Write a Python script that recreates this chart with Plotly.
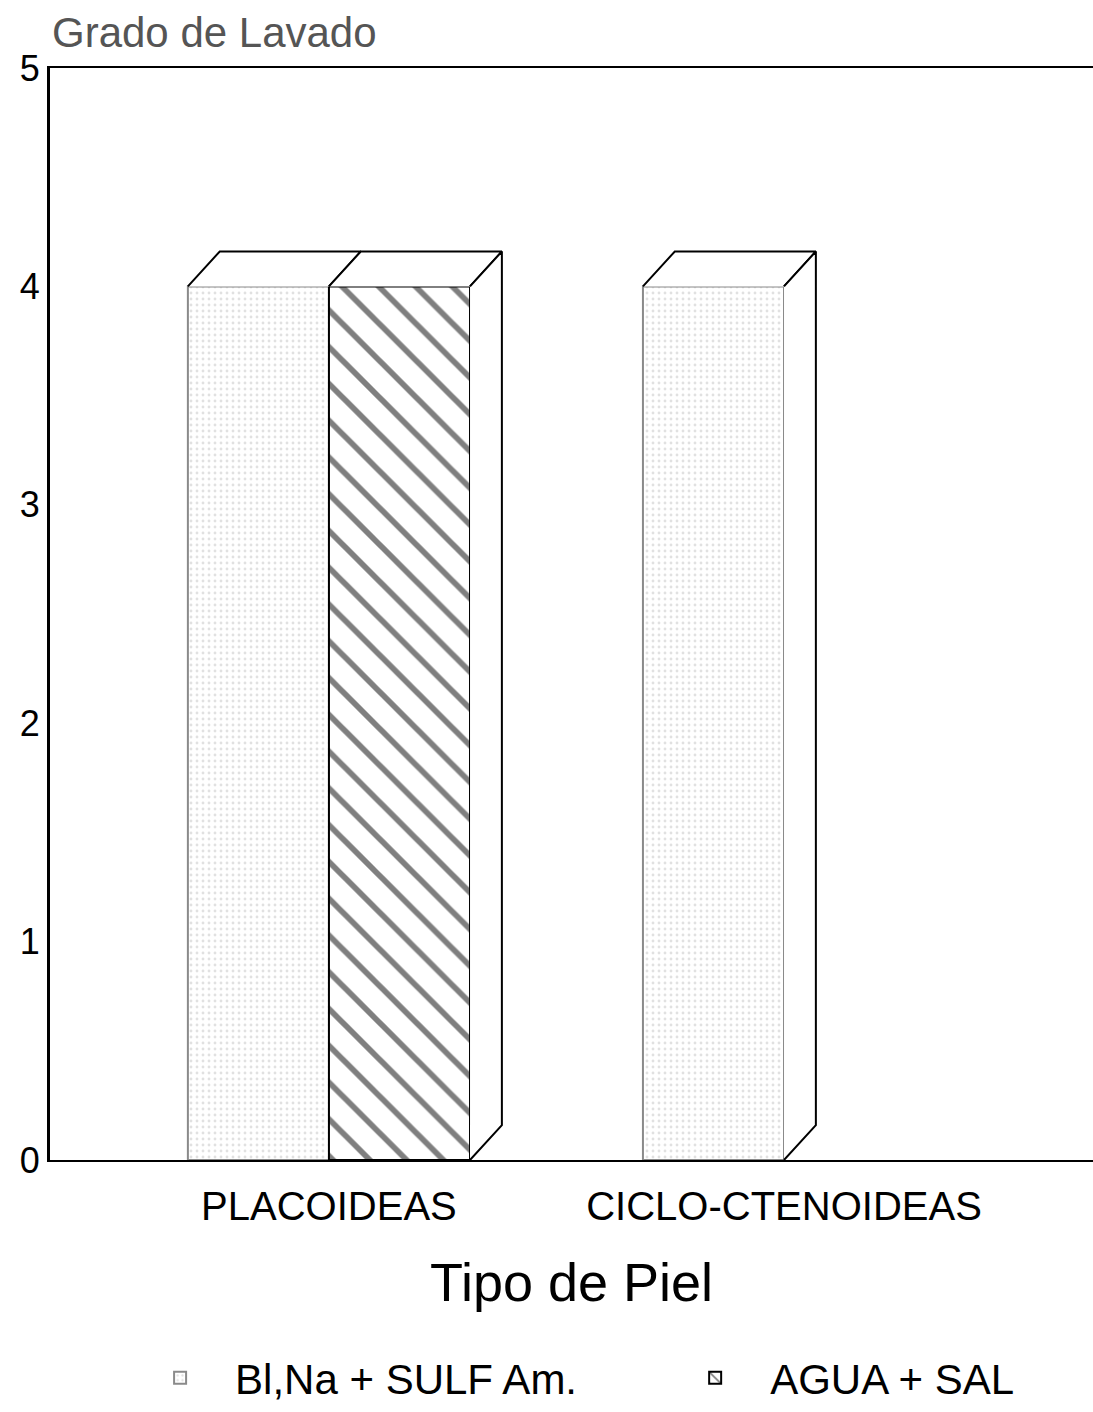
import plotly.graph_objects as go

# Data
categories = ["PLACOIDEAS", "CICLO-CTENOIDEAS"]
series_names = ["Bl,Na + SULF Am.", "AGUA + SAL"]
bicarb_sulf = [4, 4]
agua_sal = [4, 0]
y_ticks = [0, 1, 2, 3, 4, 5]

FONT = "Liberation Sans"
BAR_W = 0.31          # width of one bar in category units
DX, DY = 0.07, 0.16   # depth offset of the pseudo-3D faces (x units, y units)

cat_pos = list(range(len(categories)))


def outline_widths(vals, w):
    # no outline for empty bars, so nothing is drawn along the baseline
    return [w if v > 0 else 0 for v in vals]


fig = go.Figure()

fig.add_trace(go.Bar(
    x=cat_pos, y=bicarb_sulf, name=series_names[0], legend="legend",
    marker=dict(color="white",
                line=dict(color="#8a8a8a", width=outline_widths(bicarb_sulf, 2)),
                pattern=dict(shape=".", fgcolor="#c4c4c4", bgcolor="white",
                             size=6, solidity=0.18)),
))
fig.add_trace(go.Bar(
    x=cat_pos, y=agua_sal, name=series_names[1], legend="legend2",
    marker=dict(color="white",
                line=dict(color="black", width=outline_widths(agua_sal, 2)),
                pattern=dict(shape="\\", fgcolor="black", bgcolor="white",
                             size=26, solidity=0.22)),
))

# Pseudo-3D top and side faces built from the same values
all_series = [bicarb_sulf, agua_sal]
n = len(all_series)
for i in cat_pos:
    for s, vals in enumerate(all_series):
        v = vals[i]
        if v <= 0:
            continue
        x0 = i - BAR_W * n / 2 + s * BAR_W
        x1 = x0 + BAR_W
        # top face (front edge left unstroked)
        fig.add_trace(go.Scatter(
            x=[x0, x0 + DX, x1 + DX, x1], y=[v, v + DY, v + DY, v],
            mode="lines", fill="toself", fillcolor="white",
            line=dict(color="black", width=2), hoverinfo="skip",
            showlegend=False))
        # side face only where no neighbouring bar covers it
        nxt = all_series[s + 1][i] if s + 1 < n else 0
        if nxt < v:
            fig.add_trace(go.Scatter(
                x=[x1, x1 + DX, x1 + DX, x1], y=[v, v + DY, DY, 0],
                mode="lines", fill="toself", fillcolor="white",
                line=dict(color="black", width=2), hoverinfo="skip",
                showlegend=False))

x_lo = -0.613
x_hi = 1.679

legend_style = dict(orientation="h", y=-0.2, yanchor="middle", xanchor="left",
                    font=dict(size=42, family=FONT), itemwidth=100,
                    bgcolor="rgba(0,0,0,0)")

fig.update_layout(
    width=1093, height=1412,
    margin=dict(l=50, r=0, t=68, b=252),
    paper_bgcolor="white", plot_bgcolor="white",
    barmode="group", bargap=0.38, bargroupgap=0,
    font=dict(family=FONT, color="black"),
    xaxis=dict(range=[x_lo, x_hi], tickvals=cat_pos, ticktext=categories,
               showgrid=False, zeroline=False, showline=True,
               linecolor="black", linewidth=2, mirror=True,
               ticks="", ticklabelstandoff=10,
               tickfont=dict(size=40, family=FONT),
               title=dict(text="Tipo de Piel", font=dict(size=54, family=FONT),
                          standoff=36)),
    yaxis=dict(range=[0, 5], tickvals=y_ticks,
               showgrid=False, zeroline=False, showline=True,
               linecolor="black", linewidth=3, ticks="",
               tickfont=dict(size=36, family=FONT)),
    legend=dict(x=0.072, **legend_style),
    legend2=dict(x=0.585, **legend_style),
    annotations=[dict(text="Grado de Lavado", xref="paper", yref="paper",
                      x=0, y=1, xanchor="left", yanchor="bottom", yshift=10,
                      showarrow=False,
                      font=dict(size=42, family=FONT, color="#555555"))],
)

fig.write_html("out.html")
